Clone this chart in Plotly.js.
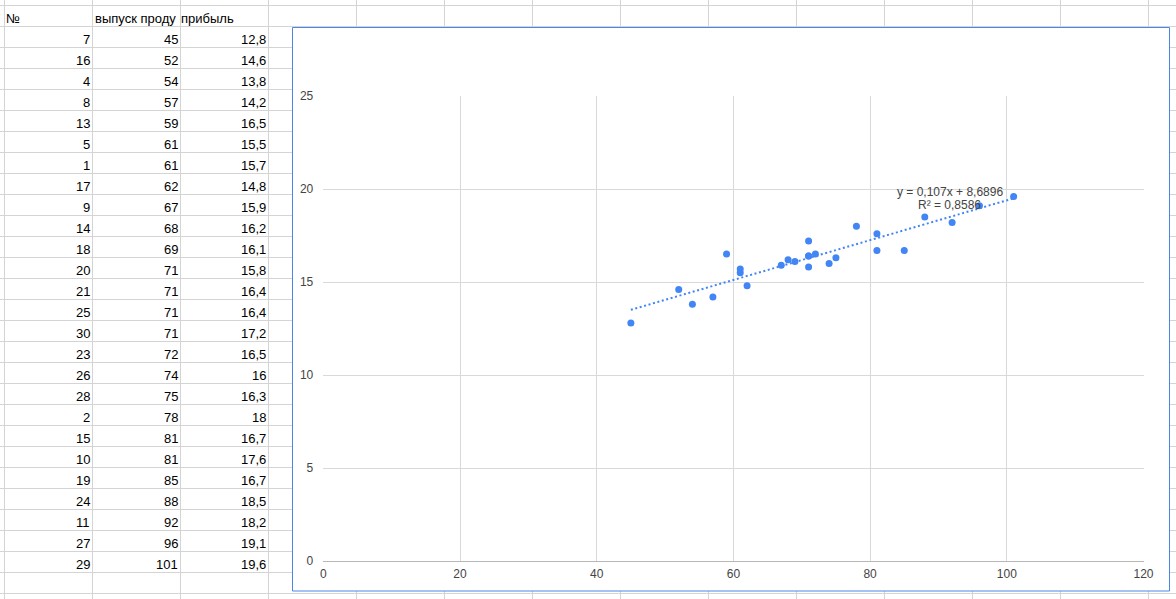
<!DOCTYPE html>
<html>
<head>
<meta charset="utf-8">
<script src="https://cdn.plot.ly/plotly-3.0.1.min.js"></script>
<style>
html,body{margin:0;padding:0;background:#fff;}
#chart{width:1176px;height:599px;}
</style>
</head>
<body>
<div id="chart"></div>
<script>
// ---- data ----
var headers = ["№", "выпуск проду", "прибыль"];
var rowNumbers = [7,16,4,8,13,5,1,17,9,14,18,20,21,25,30,23,26,28,2,15,10,19,24,11,27,29];
var output = [45,52,54,57,59,61,61,62,67,68,69,71,71,71,71,72,74,75,78,81,81,85,88,92,96,101];
var profit = [12.8,14.6,13.8,14.2,16.5,15.5,15.7,14.8,15.9,16.2,16.1,15.8,16.4,16.4,17.2,16.5,16,16.3,18,16.7,17.6,16.7,18.5,18.2,19.1,19.6];
var trendSlope = 0.107;
var trendIntercept = 8.6896;
var rSquared = 0.8586;
var xTicks = [0,20,40,60,80,100,120];
var yTicks = [0,5,10,15,20,25];

// ---- page geometry (pixels) ----
var W = 1176, H = 599;
function px(x){ return x / W; }
function py(y){ return 1 - y / H; }
function fmt(v){ return String(v).replace('.', ','); }

var gridColor = '#d4d4d4';
var shapes = [];
// spreadsheet horizontal lines
for (var k = 0; k <= 28; k++) {
  var yy = 5.5 + 21 * k;
  shapes.push({type:'line', xref:'paper', yref:'paper', layer:'below',
    x0:0, x1:1, y0:py(yy), y1:py(yy), line:{color:gridColor, width:1}});
}
// spreadsheet vertical lines
var colLines = [4.5, 92.5, 180.5, 268.5];
for (var c = 1; c <= 10; c++) colLines.push(268.5 + 88 * c);
colLines.forEach(function(xx){
  shapes.push({type:'line', xref:'paper', yref:'paper', layer:'below',
    x0:px(xx), x1:px(xx), y0:0, y1:1, line:{color:gridColor, width:1}});
});
// chart box
shapes.push({type:'rect', xref:'paper', yref:'paper', layer:'below',
  x0:px(292.5), x1:px(1169.5), y0:py(591), y1:py(27.5),
  fillcolor:'#ffffff', line:{color:'#4a86e8', width:1}});

// spreadsheet text
var sheetFont = {family:'Arial, "Liberation Sans", sans-serif', size:13, color:'#000000'};
var annotations = [];
var colRight = [90, 178, 266];
var colLeft = [6, 94.5, 181];
headers.forEach(function(h, j){
  annotations.push({xref:'paper', yref:'paper', x:px(colLeft[j]), y:py(18.5),
    xanchor:'left', yanchor:'middle', text:h, showarrow:false, font:sheetFont,
    align:'left', borderpad:0, borderwidth:0});
});
var cols = [rowNumbers, output, profit];
for (var i = 0; i < rowNumbers.length; i++) {
  var yc = 37 + 21 * i + 2.5;
  for (var j = 0; j < 3; j++) {
    annotations.push({xref:'paper', yref:'paper', x:px(colRight[j]), y:py(yc),
      xanchor:'right', yanchor:'middle', text:fmt(cols[j][i]), showarrow:false,
      font:sheetFont, borderpad:0, borderwidth:0});
  }
}

// trendline label
var chartFont = {family:'Arial, "Liberation Sans", sans-serif', size:12, color:'#444444'};
annotations.push({xref:'paper', yref:'paper', x:px(949.5), y:py(191.7), xanchor:'center', yanchor:'middle',
  text:'y = ' + fmt(trendSlope) + 'x + ' + fmt(trendIntercept), showarrow:false, font:chartFont, borderpad:0, borderwidth:0});
annotations.push({xref:'paper', yref:'paper', x:px(949.5), y:py(205.3), xanchor:'center', yanchor:'middle',
  text:'R² = ' + fmt(rSquared), showarrow:false, font:chartFont, borderpad:0, borderwidth:0});

// trendline over data range
var xMin = Math.min.apply(null, output), xMax = Math.max.apply(null, output);
var trendX = [xMin, xMax];
var trendY = trendX.map(function(x){ return trendSlope * x + trendIntercept; });

var traces = [
  {type:'scatter', mode:'lines', x:trendX, y:trendY, hoverinfo:'skip',
   line:{color:'#4285f4', width:2, dash:'2px,2.6px'}},
  {type:'scatter', mode:'markers', x:output, y:profit,
   marker:{color:'#4285f4', size:7}}
];

var layout = {
  width:W, height:H,
  margin:{l:0, r:0, t:0, b:0, pad:0},
  paper_bgcolor:'#ffffff',
  plot_bgcolor:'rgba(0,0,0,0)',
  showlegend:false,
  font:chartFont,
  xaxis:{domain:[px(323.3), px(1143.5)], range:[0,120], tickvals:xTicks,
    ticktext:xTicks.map(String), showgrid:true, gridcolor:'#d9d9d9', gridwidth:1,
    zeroline:false, showline:true, linecolor:'#b7b7b7', linewidth:1, ticks:'',
    ticklabelstandoff:2, tickfont:chartFont, fixedrange:true},
  yaxis:{domain:[py(561), py(96)], range:[0,25], tickvals:yTicks,
    ticktext:yTicks.map(String), showgrid:true, gridcolor:'#d9d9d9', gridwidth:1,
    zeroline:false, showline:false, ticks:'', ticklabelstandoff:9,
    tickfont:chartFont, fixedrange:true},
  shapes:shapes,
  annotations:annotations
};

Plotly.newPlot('chart', traces, layout, {displayModeBar:false, staticPlot:true});
</script>
</body>
</html>
